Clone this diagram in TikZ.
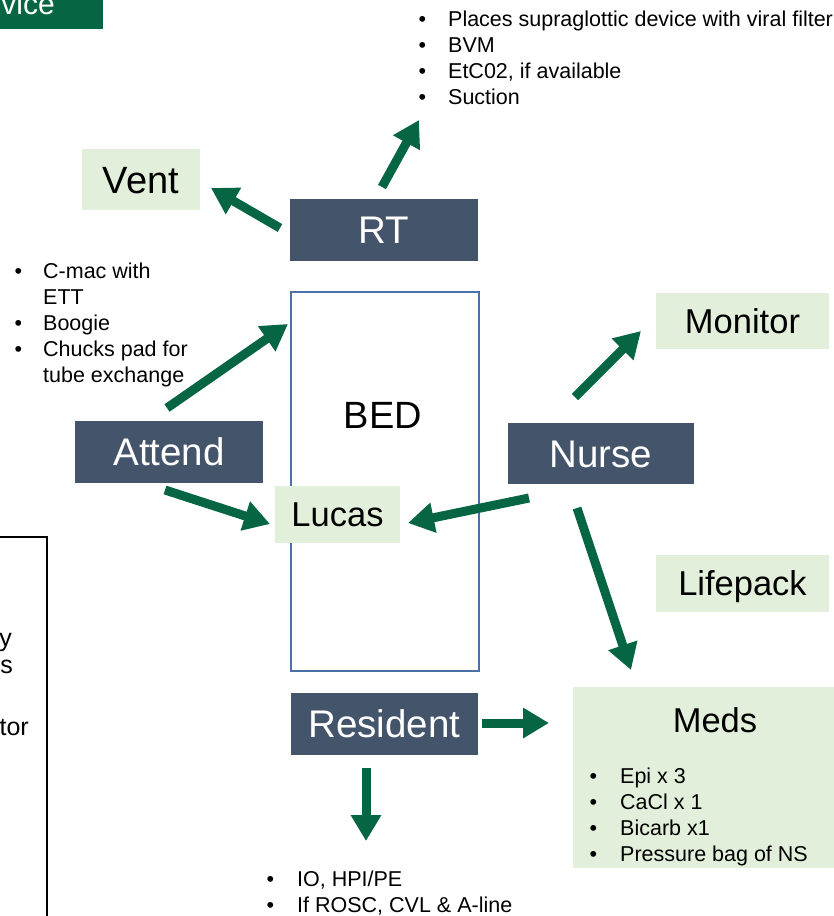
\documentclass[tikz,border=0pt]{standalone}
\usepackage{fontspec}
\setmainfont{Liberation Sans}
\usetikzlibrary{arrows.meta}
\definecolor{dgreen}{HTML}{066644}
\definecolor{slate}{HTML}{44546A}
\definecolor{lgreen}{HTML}{E2EFDA}
\definecolor{bedblue}{HTML}{4A70A8}
\begin{document}
\begin{tikzpicture}[x=1pt,y=-1pt,
  darkbox/.style={fill=slate, text=white, inner sep=0, minimum height=62,
    font=\fontsize{38.5}{42}\selectfont, text height=27.6pt, text depth=0pt},
  lightbox/.style={fill=lgreen, inner sep=0,
    font=\fontsize{34.5}{40}\selectfont, text height=24.7pt, text depth=0pt},
  garrow/.style={draw=dgreen, line width=9pt, -{Triangle[length=26pt, width=29pt]}},
  blist/.style={anchor=base west, inner sep=0, font=\fontsize{21.5}{26}\selectfont},
  frag/.style={anchor=base east, inner sep=0, font=\fontsize{25}{27}\selectfont},
]
\useasboundingbox (0,0) rectangle (833,916);
% top-left title fragment
\node[fill=dgreen, minimum width=108, minimum height=34, inner sep=0] (titlebox) at (49,12) {};
\node[anchor=base east, inner sep=0, text=white, font=\fontsize{30}{32}\selectfont] (titletext) at (55,14) {vice};
% left partial box
\node[draw=black, line width=1.5pt, minimum width=60, minimum height=400, inner sep=0] (leftbox) at (17,737) {};
\node[frag] (fy) at (12,646) {y};
\node[frag] (fs) at (13,673) {s};
\node[frag] (ftor) at (29,735) {tor};
% bed
\node[draw=bedblue, line width=1.5pt, minimum width=188, minimum height=379, inner sep=0] (bed) at (385,481.5) {};
\node[inner sep=0, font=\fontsize{38}{40}\selectfont] (bedlabel) at (383,415) {BED};
% boxes
\node[lightbox, minimum width=118, minimum height=61, font=\fontsize{38}{40}\selectfont, text height=27.2pt] (vent) at (141,179.5) {Vent};
\node[darkbox, minimum width=188] (rt) at (383.5,230) {RT};
\node[lightbox, minimum width=173, minimum height=56] (monitor) at (742.5,321) {Monitor};
\node[lightbox, minimum width=173, minimum height=57] (lifepack) at (742.5,583) {Lifepack};
\node[lightbox, minimum width=125, minimum height=57] (lucas) at (337.5,514.5) {Lucas};
\node[darkbox, minimum width=188] (attend) at (169,452) {Attend};
\node[darkbox, minimum width=186, minimum height=61] (nurse) at (601,453.5) {Nurse};
\node[darkbox, minimum width=187] (resident) at (384.5,724) {Resident};
\node[fill=lgreen, minimum width=262, minimum height=181, inner sep=0] (medsbox) at (704,777.5) {};
\node[anchor=base, inner sep=0, font=\fontsize{34.5}{40}\selectfont] (medstitle) at (715,732) {Meds};
% bullet lists
\node[blist] (rtlist) at (418.5,26) {\begin{tabular}[t]{@{}p{29.5pt}@{}l@{}}
•&Places supraglottic device with viral filter\\
•&BVM\\
•&EtC02, if available\\
•&Suction\end{tabular}};
\node[blist] (attlist) at (14.3,278) {\begin{tabular}[t]{@{}p{28.7pt}@{}l@{}}
•&C-mac with\\
&ETT\\
•&Boogie\\
•&Chucks pad for\\
&tube exchange\end{tabular}};
\node[blist] (medslist) at (589.3,783.5) {\begin{tabular}[t]{@{}p{30.7pt}@{}l@{}}
•&Epi x 3\\
•&CaCl x 1\\
•&Bicarb x1\\
•&Pressure bag of NS\end{tabular}};
\node[blist] (reslist) at (266.3,886) {\begin{tabular}[t]{@{}p{30.7pt}@{}l@{}}
•&IO, HPI/PE\\
•&If ROSC, CVL \& A-line\end{tabular}};
% arrow end points
\coordinate (rtA) at (280,228);   \coordinate (ventT) at (211,188);
\coordinate (rtB) at (382,187);   \coordinate (rtlistT) at (419,120);
\coordinate (attA) at (167,408);  \coordinate (bedT) at (288,324);
\coordinate (attB) at (165,490);  \coordinate (lucasL) at (270,524);
\coordinate (nurA) at (529,498);  \coordinate (lucasR) at (408,523);
\coordinate (nurB) at (575,397);  \coordinate (monT) at (641,331);
\coordinate (nurC) at (577,508);  \coordinate (medsT) at (631,670);
\coordinate (resA) at (482,723);  \coordinate (medsL) at (549,723);
\coordinate (resB) at (366,768);  \coordinate (reslistT) at (366,841);
% arrows
\draw[garrow] (rtA) -- (ventT);
\draw[garrow] (rtB) -- (rtlistT);
\draw[garrow] (attA) -- (bedT);
\draw[garrow] (attB) -- (lucasL);
\draw[garrow] (nurA) -- (lucasR);
\draw[garrow] (nurB) -- (monT);
\draw[garrow] (nurC) -- (medsT);
\draw[garrow] (resA) -- (medsL);
\draw[garrow] (resB) -- (reslistT);
\end{tikzpicture}
\end{document}
